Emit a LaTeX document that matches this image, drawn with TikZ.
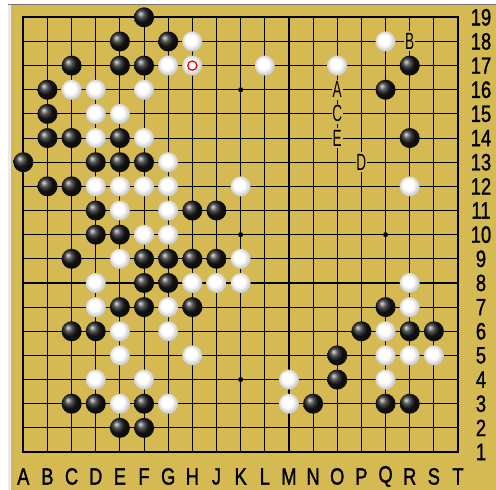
\documentclass[tikz,border=0pt]{standalone}
\usepackage{fontspec}
\usepackage{graphicx}
\setmainfont{Liberation Sans}
\newfontfamily\coordfont[FakeBold=1.5]{Liberation Sans}
\definecolor{board}{RGB}{213,186,84}
\pgfdeclareradialshading{wstoneshade}{\pgfpoint{-5bp}{5bp}}{color(0bp)=(white); color(13bp)=(white); color(25bp)=(black!20); color(50bp)=(black!20)}
\tikzset{
  bstone/.style={circle, minimum size=20pt, inner sep=0pt, shading=ball, ball color=black!90},
  wstone/.style={circle, minimum size=20pt, inner sep=0pt, shading=wstoneshade},
  coordtxt/.style={inner sep=0pt, font=\coordfont\fontsize{23.5}{24}\selectfont},
  boardlab/.style={fill=board, inner sep=0pt, minimum width=11pt, minimum height=20pt, font=\fontsize{23.5}{24}\selectfont},
  starpt/.style={circle, fill=black, inner sep=0pt, minimum size=5pt}
}
\begin{document}
\begin{tikzpicture}[x=1pt,y=-1pt]
\useasboundingbox (0,0) rectangle (496,490);
\fill[white] (0,0) rectangle (496,490);
\fill[black!55] (8,3.5) rectangle (496,5);
\fill[black!8] (8,5) rectangle (11,490);
\fill[board] (11,5) rectangle (496,490);
% grid
\foreach \i in {0,...,18} {
  \draw[line width=1.1pt] ({23.3+24.15*\i},17.3) -- ({23.3+24.15*\i},452.0);
  \draw[line width=1.1pt] (23.3,{17.3+24.15*\i}) -- (458.0,{17.3+24.15*\i});
}
\draw[line width=2pt] (23.3,17.3) rectangle (458.0,452.0);
% star points
\foreach \c/\r in {9/16,9/10,15/10,9/4}
  \node[starpt] (s-\c-\r) at ({23.3+24.15*\c},{17.3+24.15*(19-\r)}) {};
% black stones
\foreach \c/\r in {5/19,4/18,6/18,2/17,4/17,5/17,1/16,1/15,1/14,2/14,4/14,
  0/13,3/13,4/13,5/13,1/12,2/12,3/11,7/11,8/11,3/10,4/10,
  2/9,5/9,6/9,7/9,8/9,5/8,6/8,4/7,5/7,7/7,2/6,3/6,2/3,3/3,5/3,4/2,5/2,
  16/17,15/16,16/14,15/7,14/6,16/6,17/6,13/5,13/4,12/3,15/3,16/3}
  \node[bstone] (b-\c-\r) at ({23.3+24.15*\c},{17.3+24.15*(19-\r)}) {};
% white stones
\foreach \c/\r in {7/18,15/18,6/17,7/17,10/17,13/17,2/16,3/16,5/16,3/15,4/15,
  3/14,5/14,6/13,3/12,4/12,5/12,6/12,9/12,16/12,4/11,6/11,5/10,6/10,
  4/9,9/9,3/8,7/8,8/8,9/8,16/8,3/7,6/7,16/7,4/6,6/6,15/6,
  4/5,7/5,15/5,16/5,17/5,3/4,5/4,11/4,15/4,4/3,6/3,11/3}
  \node[wstone] (w-\c-\r) at ({23.3+24.15*\c},{17.3+24.15*(19-\r)}) {};
% last-move mark
\draw[red, line width=1.3pt] (w-7-17.center) circle (4.6pt);
% board letters
\node[boardlab] (labA) at ({23.3+24.15*13},{17.3+24.15*3}) {\scalebox{0.58}[1]{A}};
\node[boardlab] (labB) at ({23.3+24.15*16},{17.3+24.15*1}) {\scalebox{0.58}[1]{B}};
\node[boardlab] (labC) at ({23.3+24.15*13},{17.3+24.15*4}) {\scalebox{0.58}[1]{C}};
\node[boardlab] (labD) at ({23.3+24.15*14},{17.3+24.15*6}) {\scalebox{0.58}[1]{D}};
\node[boardlab] (labE) at ({23.3+24.15*13},{17.3+24.15*5}) {\scalebox{0.58}[1]{E}};
% coordinates
\foreach \l [count=\i from 0] in {A,B,C,D,E,F,G,H,J,K,L,M,N,O,P,Q,R,S,T}
  \node[coordtxt] (col-\l) at ({23.3+24.15*\i},476.5) {\scalebox{0.78}[1]{\l}};
\foreach \r in {1,...,19}
  \node[coordtxt] (row-\r) at (481,{17.3+24.15*(19-\r)}) {\scalebox{0.78}[1]{\r}};
\end{tikzpicture}
\end{document}
